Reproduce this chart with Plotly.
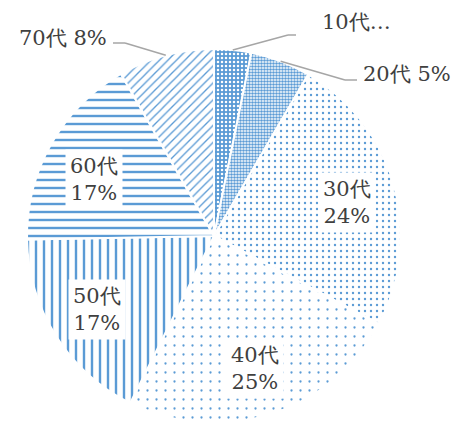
import math
import plotly.graph_objects as go

# data
labels = ["10代", "20代", "30代", "40代", "50代", "60代", "70代"]
values = [3.2, 5.2, 24.4, 24.6, 17.3, 17.0, 8.3]

# page has 8px body margin, so the figure is drawn that much smaller
PAD = 8
W, H = 462 - PAD, 423 - PAD
BLUE = "#5b9bd5"
TEXT = "#404040"
FONT = "DejaVu Serif"
FSIZE = 21

# pie geometry (page px)
CX, CY, R = 214, 236, 187

patterns = [
    dict(shape=".", bgcolor=BLUE, fgcolor="white", size=4, solidity=0.3),
    dict(shape=".", bgcolor="white", fgcolor=BLUE, size=3, solidity=0.55),
    dict(shape=".", bgcolor="white", fgcolor=BLUE, size=6, solidity=0.12),
    dict(shape=".", bgcolor="white", fgcolor=BLUE, size=9, solidity=0.05),
    dict(shape="|", bgcolor="white", fgcolor=BLUE, size=8, solidity=0.3),
    dict(shape="-", bgcolor="white", fgcolor=BLUE, size=8, solidity=0.3),
    dict(shape="/", bgcolor="white", fgcolor=BLUE, size=6, solidity=0.22),
]


def px2paper(x, y):
    return (x - PAD) / W, 1 - (y - PAD) / H


x0d, y1d = px2paper(CX - R, CY - R)
x1d, y0d = px2paper(CX + R, CY + R)

fig = go.Figure(go.Pie(
    labels=labels, values=values,
    sort=False, direction="clockwise", rotation=0,
    textinfo="none", hoverinfo="label+percent",
    marker=dict(
        colors=["white"] * len(values),
        line=dict(color="white", width=2),
        pattern=dict(
            shape=[p["shape"] for p in patterns],
            bgcolor=[p["bgcolor"] for p in patterns],
            fgcolor=[p["fgcolor"] for p in patterns],
            size=[p["size"] for p in patterns],
            solidity=[p["solidity"] for p in patterns],
            fillmode="replace",
        ),
    ),
    domain=dict(x=[max(x0d, 0), min(x1d, 1)], y=[max(y0d, 0), min(y1d, 1)]),
    showlegend=False,
))

total = sum(values)
pcts = [round(v / total * 100) for v in values]
mids = []
acc = 0
for v in values:
    mids.append((acc + v / 2) / total * 2 * math.pi)
    acc += v

annotations = []
shapes = []

# inside labels (white boxed): radius factor, vertical nudge
inside = {2: (0.74, 4), 3: (0.73, 2), 4: (0.74, 0), 5: (0.74, 12)}
for i, (rho, dy) in inside.items():
    x = CX + rho * R * math.sin(mids[i])
    y = CY - rho * R * math.cos(mids[i]) + dy
    ax, ay = px2paper(x, y)
    annotations.append(dict(
        x=ax, y=ay, xref="paper", yref="paper", showarrow=False,
        xanchor="center", yanchor="middle",
        text=f"{labels[i]}<br>{pcts[i]}%", bgcolor="white", borderpad=4,
        font=dict(family=FONT, size=FSIZE, color=TEXT),
    ))

# outside labels with elbow leader lines
outside = {
    0: (288, 35, 296, 320, "left", f"{labels[0]}…", 22),
    1: (345, 80, 357, 361, "left", f"{labels[1]} {pcts[1]}%", 74),
    6: (125, 43, 113, 109, "right", f"{labels[6]} {pcts[6]}%", 38),
}
for i, (ex, ey, endx, tx, anchor, txt, ty) in outside.items():
    sx = CX + R * math.sin(mids[i])
    sy = CY - R * math.cos(mids[i])
    for (xa, ya, xb, yb) in [(sx, sy, ex, ey), (ex, ey, endx, ey)]:
        p0 = px2paper(xa, ya)
        p1 = px2paper(xb, yb)
        shapes.append(dict(type="line", xref="paper", yref="paper",
                           x0=p0[0], y0=p0[1], x1=p1[0], y1=p1[1],
                           line=dict(color="#a6a6a6", width=1.5)))
    ax, ay = px2paper(tx, ty)
    annotations.append(dict(
        x=ax, y=ay, xref="paper", yref="paper", showarrow=False,
        xanchor=anchor, yanchor="middle", text=txt,
        font=dict(family=FONT, size=FSIZE, color=TEXT),
    ))

fig.update_layout(
    width=W, height=H,
    margin=dict(l=0, r=0, t=0, b=0),
    paper_bgcolor="white", plot_bgcolor="white",
    annotations=annotations, shapes=shapes,
)

fig.write_html("out.html")
